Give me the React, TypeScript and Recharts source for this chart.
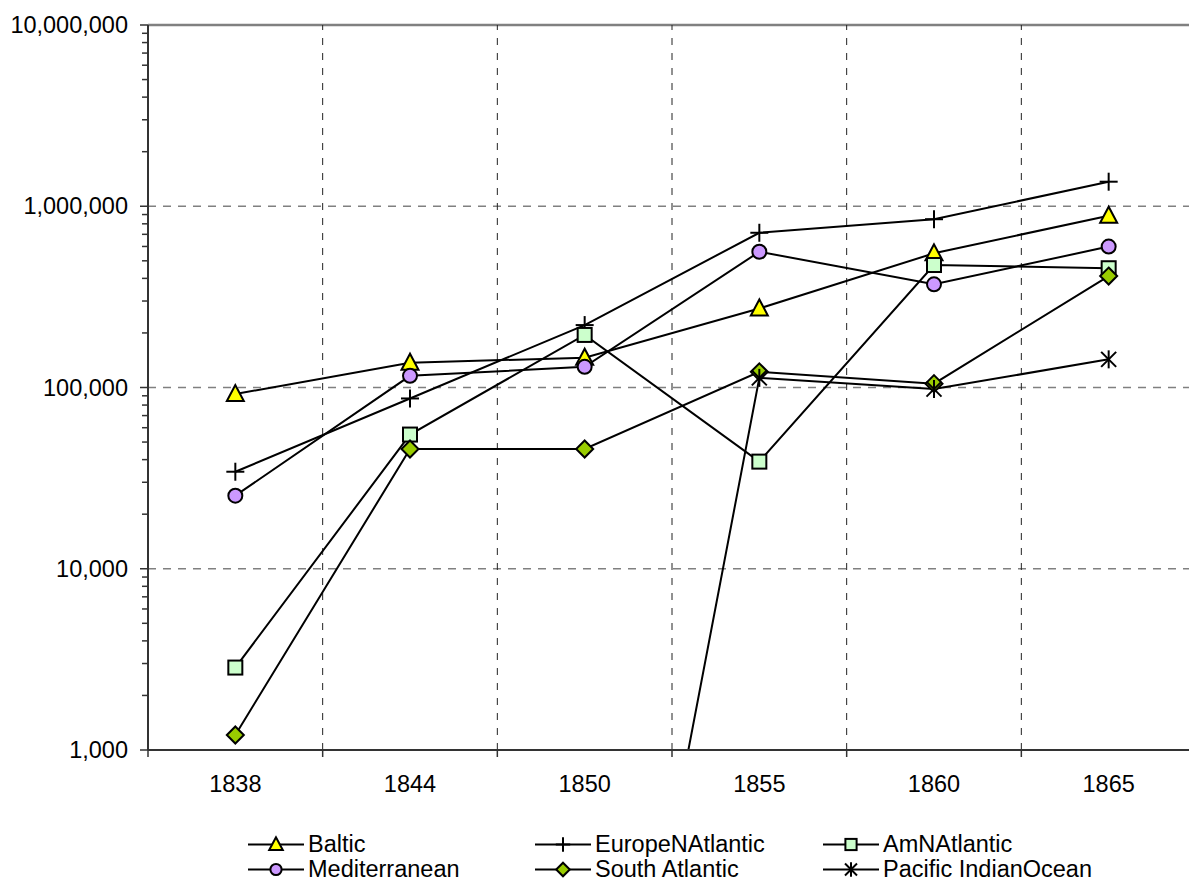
import React from 'react';
import { LineChart, Line, XAxis, YAxis, ReferenceLine, Legend } from 'recharts';

const years = ['1838', '1844', '1850', '1855', '1860', '1865'];

const baltic = [92000, 137000, 146000, 273000, 550000, 887000];
const europeNAtlantic = [34300, 87000, 221000, 714000, 848000, 1366000];
const amNAtlantic = [2850, 55000, 195000, 39000, 474000, 455000];
const mediterranean = [25300, 116000, 130000, 561000, 371000, 599000];
const southAtlantic = [1210, 45800, 45800, 122000, 105000, 412000];
const pacificIndianOcean = [null, null, 1, 113000, 98000, 143000];

const majorTicks = [1000, 10000, 100000, 1000000, 10000000];
const minorSteps = [2, 3, 4, 5, 6, 7, 8, 9];

const FONT = '"Liberation Sans", Arial, sans-serif';
const FONT_SIZE = 23.5;

const data = years.map((year, i) => ({
  idx: i,
  year,
  baltic: baltic[i],
  europeNAtlantic: europeNAtlantic[i],
  amNAtlantic: amNAtlantic[i],
  mediterranean: mediterranean[i],
  southAtlantic: southAtlantic[i],
  pacificIndianOcean: pacificIndianOcean[i],
}));

const yTicks = [
  ...majorTicks,
  ...majorTicks.slice(0, -1).flatMap((m) => minorSteps.map((s) => m * s)),
].sort((a, b) => a - b);

// category centres plus the boundaries between them
const xTicks = [...years.flatMap((_, i) => [i - 0.5, i]), years.length - 0.5];
const boundaries = years.slice(1).map((_, i) => i + 0.5);

type Shape = 'triangle' | 'plus' | 'square' | 'circle' | 'diamond' | 'asterisk';

const series: { key: string; name: string; shape: Shape }[] = [
  { key: 'baltic', name: 'Baltic', shape: 'triangle' },
  { key: 'europeNAtlantic', name: 'EuropeNAtlantic', shape: 'plus' },
  { key: 'amNAtlantic', name: 'AmNAtlantic', shape: 'square' },
  { key: 'mediterranean', name: 'Mediterranean', shape: 'circle' },
  { key: 'southAtlantic', name: 'South Atlantic', shape: 'diamond' },
  { key: 'pacificIndianOcean', name: 'Pacific IndianOcean', shape: 'asterisk' },
];

const Marker = ({ shape, cx, cy, s = 1 }: { shape: Shape; cx: number; cy: number; s?: number }) => {
  const common = { stroke: '#000', strokeWidth: 2 };
  switch (shape) {
    case 'triangle':
      return (
        <polygon
          points={`${cx},${cy - 9 * s} ${cx - 8.5 * s},${cy + 7 * s} ${cx + 8.5 * s},${cy + 7 * s}`}
          fill="#FFFF00"
          {...common}
        />
      );
    case 'plus':
      return (
        <g {...common}>
          <line x1={cx - 9 * s} x2={cx + 9 * s} y1={cy} y2={cy} />
          <line x1={cx} x2={cx} y1={cy - 9 * s} y2={cy + 9 * s} />
        </g>
      );
    case 'square':
      return <rect x={cx - 7 * s} y={cy - 7 * s} width={14 * s} height={14 * s} fill="#CCFFCC" {...common} />;
    case 'circle':
      return <circle cx={cx} cy={cy} r={7 * s} fill="#CC99FF" {...common} />;
    case 'diamond':
      return (
        <polygon
          points={`${cx},${cy - 8.5 * s} ${cx + 8.5 * s},${cy} ${cx},${cy + 8.5 * s} ${cx - 8.5 * s},${cy}`}
          fill="#99CC00"
          {...common}
        />
      );
    case 'asterisk':
      return (
        <g {...common}>
          <line x1={cx} x2={cx} y1={cy - 9 * s} y2={cy + 9 * s} />
          <line x1={cx - 7.5 * s} x2={cx + 7.5 * s} y1={cy - 7.5 * s} y2={cy + 7.5 * s} />
          <line x1={cx - 7.5 * s} x2={cx + 7.5 * s} y1={cy + 7.5 * s} y2={cy - 7.5 * s} />
        </g>
      );
  }
  return null;
};

const renderDot = (shape: Shape) => (props: any) => {
  const { cx, cy, index } = props;
  if (cx == null || cy == null || props.value == null) return <g key={`d-${shape}-${index}`} />;
  return (
    <g key={`d-${shape}-${index}`}>
      <Marker shape={shape} cx={cx} cy={cy} />
    </g>
  );
};

const XTick = (props: any) => {
  const { x, y, payload } = props;
  const v = payload.value as number;
  if (Number.isInteger(v)) {
    return (
      <text x={x} y={y + 42} textAnchor="middle" fontSize={FONT_SIZE} fill="#000" style={{ fontFamily: FONT }}>
        {years[v]}
      </text>
    );
  }
  return <line x1={x} x2={x} y1={y} y2={y + 7} stroke="#333" strokeWidth={1.5} />;
};

const YTick = (props: any) => {
  const { x, y, payload } = props;
  const v = payload.value as number;
  const major = majorTicks.includes(v);
  return (
    <g>
      <line x1={x - (major ? 8 : 6)} x2={x} y1={y} y2={y} stroke="#333" strokeWidth={1.5} />
      {major && (
        <text x={x - 20} y={y} dy="0.35em" textAnchor="end" fontSize={FONT_SIZE} fill="#000" style={{ fontFamily: FONT }}>
          {v.toLocaleString('en-US')}
        </text>
      )}
    </g>
  );
};

const legendCols = [248, 535, 823];

const renderLegend = () => (
  <div style={{ position: 'relative', width: 1200, height: 52 }}>
    {series.map((s, i) => (
      <div
        key={s.key}
        style={{
          position: 'absolute',
          left: legendCols[i % 3],
          top: Math.floor(i / 3) * 25,
          height: 25,
          display: 'flex',
          alignItems: 'center',
          whiteSpace: 'nowrap',
        }}
      >
        <svg width={56} height={25} style={{ display: 'block' }}>
          <line x1={0} x2={56} y1={12.5} y2={12.5} stroke="#000" strokeWidth={2} />
          <Marker shape={s.shape} cx={28} cy={12.5} s={0.8} />
        </svg>
        <span style={{ marginLeft: 4, fontSize: FONT_SIZE, fontFamily: FONT, color: '#000', lineHeight: '25px' }}>
          {s.name}
        </span>
      </div>
    ))}
  </div>
);

const App: React.FC = () => {
  return (
    <div
      style={{
        position: 'absolute',
        left: 0,
        top: 0,
        width: 1189,
        height: 891,
        overflow: 'hidden',
        background: '#fff',
      }}
    >
      <LineChart
        width={1200}
        height={891}
        data={data}
        margin={{ top: 25, right: 4, left: 0, bottom: 81 }}
      >
        <XAxis
          dataKey="idx"
          type="number"
          domain={[-0.5, years.length - 0.5]}
          allowDataOverflow
          ticks={xTicks}
          interval={0}
          tick={<XTick />}
          tickLine={false}
          tickSize={0}
          tickMargin={0}
          height={60}
          axisLine={{ stroke: '#333', strokeWidth: 2 }}
        />
        <YAxis
          scale="log"
          domain={[1000, 10000000]}
          allowDataOverflow
          ticks={yTicks}
          interval={0}
          tick={<YTick />}
          tickLine={false}
          tickSize={0}
          tickMargin={0}
          width={148}
          axisLine={{ stroke: '#333', strokeWidth: 2 }}
        />
        {majorTicks.slice(1, -1).map((v) => (
          <ReferenceLine key={`h-${v}`} y={v} stroke="#808080" strokeWidth={1.5} strokeDasharray="8 7" />
        ))}
        <ReferenceLine y={10000000} stroke="#808080" strokeWidth={2.5} />
        {boundaries.map((b) => (
          <ReferenceLine key={`v-${b}`} x={b} stroke="#222" strokeWidth={1} strokeDasharray="7 8" />
        ))}
        {series.map((s) => (
          <Line
            key={s.key}
            type="linear"
            dataKey={s.key}
            name={s.name}
            stroke="#000"
            strokeWidth={2}
            dot={renderDot(s.shape)}
            activeDot={false}
            isAnimationActive={false}
          />
        ))}
        <Legend
          content={renderLegend}
          layout="horizontal"
          verticalAlign="middle"
          align="center"
          wrapperStyle={{ top: 832, left: 0, width: 1200 }}
        />
      </LineChart>
    </div>
  );
};

export default App;
